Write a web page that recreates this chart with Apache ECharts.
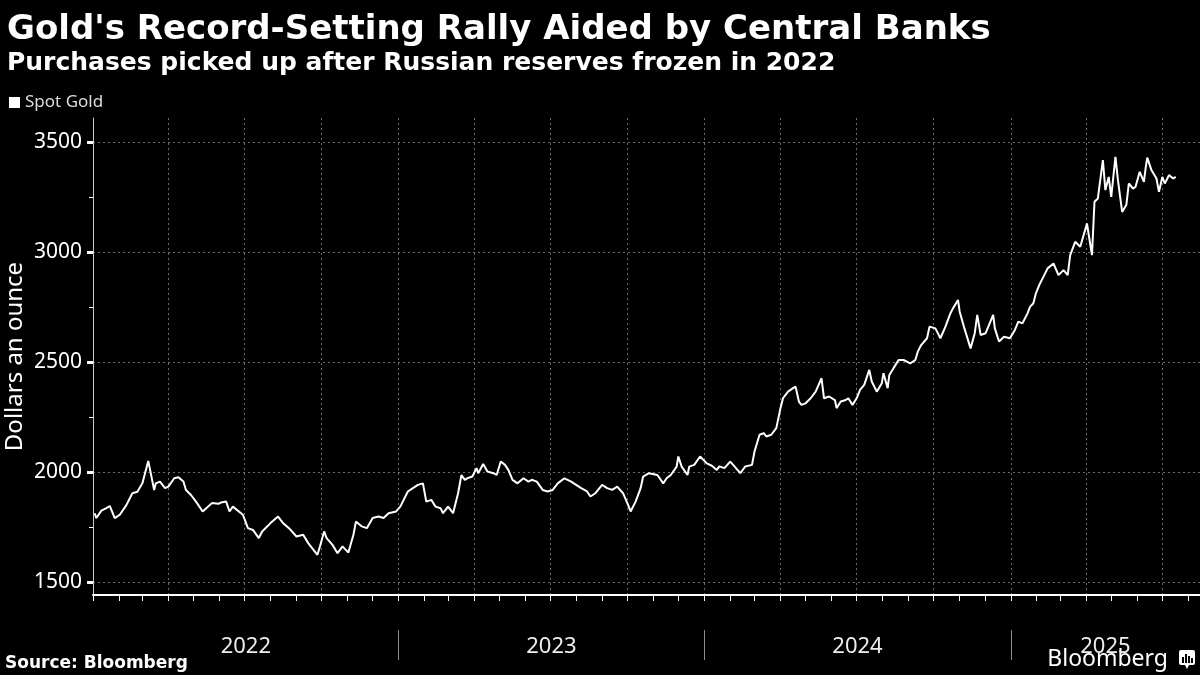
<!DOCTYPE html>
<html>
<head>
<meta charset="utf-8">
<title>Gold's Record-Setting Rally</title>
<script src="https://cdn.jsdelivr.net/npm/echarts@6/dist/echarts.min.js"></script>
<style>
  html, body { margin: 0; padding: 0; background: #000; }
  #chart { width: 1200px; height: 675px; }
</style>
</head>
<body>
<div id="chart"></div>
<script>
// spot gold, daily close (USD per ounce)
var gold2022 = [
  ['2022-01-03',1812],['2022-01-05',1790],['2022-01-11',1824],['2022-01-17',1835],['2022-01-21',1845],['2022-01-27',1790],
  ['2022-02-02',1805],['2022-02-10',1850],['2022-02-17',1903],['2022-02-23',1910],['2022-03-01',1948],['2022-03-08',2050],
  ['2022-03-15',1918],['2022-03-17',1948],['2022-03-22',1956],['2022-03-28',1926],['2022-04-01',1933],['2022-04-08',1971],
  ['2022-04-13',1976],['2022-04-19',1956],['2022-04-22',1918],['2022-04-28',1895],['2022-05-04',1865],['2022-05-12',1820],
  ['2022-05-23',1858],['2022-05-31',1855],['2022-06-03',1861],['2022-06-09',1865],['2022-06-13',1820],['2022-06-17',1842],
  ['2022-06-29',1805],['2022-07-05',1744],['2022-07-11',1736],['2022-07-18',1699],['2022-07-22',1729],['2022-08-01',1767],
  ['2022-08-10',1797],['2022-08-16',1767],['2022-08-23',1744],['2022-09-01',1706],['2022-09-09',1714],['2022-09-15',1676],
  ['2022-09-26',1623],['2022-09-29',1661],['2022-10-04',1729],['2022-10-07',1699],['2022-10-14',1668],['2022-10-20',1630],
  ['2022-10-26',1661],['2022-11-02',1633],['2022-11-08',1714],['2022-11-11',1774],['2022-11-18',1752],['2022-11-24',1744],
  ['2022-12-01',1790],['2022-12-08',1797],['2022-12-14',1790],['2022-12-20',1812],['2022-12-29',1820]
];
var gold2023 = [
  ['2023-01-03',1842],['2023-01-06',1865],['2023-01-12',1911],['2023-01-18',1926],['2023-01-24',1941],['2023-01-30',1948],
  ['2023-02-03',1865],['2023-02-09',1873],['2023-02-14',1842],['2023-02-20',1835],['2023-02-23',1812],['2023-03-01',1842],
  ['2023-03-07',1812],['2023-03-13',1903],['2023-03-17',1986],['2023-03-21',1964],['2023-03-24',1971],['2023-03-30',1979],
  ['2023-04-04',2017],['2023-04-06',1994],['2023-04-12',2036],['2023-04-17',2002],['2023-04-24',1994],['2023-04-28',1986],
  ['2023-05-03',2047],['2023-05-08',2032],['2023-05-12',2009],['2023-05-17',1964],['2023-05-23',1948],['2023-05-30',1971],
  ['2023-06-05',1956],['2023-06-09',1964],['2023-06-15',1956],['2023-06-22',1918],['2023-06-28',1911],['2023-07-04',1918],
  ['2023-07-10',1948],['2023-07-18',1971],['2023-07-26',1956],['2023-08-01',1941],['2023-08-07',1926],['2023-08-14',1911],
  ['2023-08-18',1888],['2023-08-24',1903],['2023-09-01',1941],['2023-09-07',1926],['2023-09-13',1918],['2023-09-19',1933],
  ['2023-09-26',1903],['2023-10-02',1850],['2023-10-05',1820],['2023-10-11',1865],['2023-10-17',1926],['2023-10-20',1979],
  ['2023-10-27',1994],['2023-11-06',1986],['2023-11-13',1948],['2023-11-17',1971],['2023-11-22',1986],['2023-11-29',2024],
  ['2023-12-01',2070],['2023-12-05',2024],['2023-12-12',1986],['2023-12-14',2024],['2023-12-20',2032],['2023-12-27',2070]
];
var gold2024 = [
  ['2024-01-04',2039],['2024-01-10',2028],['2024-01-16',2009],['2024-01-19',2025],['2024-01-25',2017],['2024-02-01',2047],
  ['2024-02-06',2025],['2024-02-13',1994],['2024-02-19',2025],['2024-02-27',2032],['2024-03-01',2093],['2024-03-07',2169],
  ['2024-03-12',2176],['2024-03-15',2161],['2024-03-21',2169],['2024-03-27',2199],['2024-04-01',2290],['2024-04-04',2335],
  ['2024-04-10',2365],['2024-04-16',2381],['2024-04-19',2388],['2024-04-23',2320],['2024-04-26',2305],['2024-05-01',2312],
  ['2024-05-07',2335],['2024-05-13',2365],['2024-05-20',2426],['2024-05-23',2335],['2024-05-29',2343],['2024-06-05',2327],
  ['2024-06-07',2290],['2024-06-12',2320],['2024-06-18',2327],['2024-06-21',2335],['2024-06-26',2305],['2024-07-01',2335],
  ['2024-07-05',2373],['2024-07-10',2396],['2024-07-16',2464],['2024-07-19',2411],['2024-07-25',2365],['2024-07-31',2403],
  ['2024-08-02',2449],['2024-08-07',2381],['2024-08-09',2441],['2024-08-14',2472],['2024-08-20',2509],['2024-08-26',2509],
  ['2024-09-03',2494],['2024-09-09',2509],['2024-09-12',2547],['2024-09-16',2577],['2024-09-23',2608],['2024-09-26',2661],
  ['2024-10-03',2653],['2024-10-09',2608],['2024-10-15',2661],['2024-10-21',2722],['2024-10-24',2744],['2024-10-30',2782],
  ['2024-11-01',2729],['2024-11-06',2661],['2024-11-14',2562],['2024-11-19',2631],['2024-11-22',2714],['2024-11-26',2623],
  ['2024-12-02',2631],['2024-12-11',2714],['2024-12-13',2653],['2024-12-18',2593],['2024-12-24',2615],['2024-12-31',2608]
];
var gold2025 = [
  ['2025-01-06',2646],['2025-01-10',2684],['2025-01-15',2676],['2025-01-21',2721],['2025-01-24',2751],['2025-01-28',2767],
  ['2025-01-31',2812],['2025-02-04',2850],['2025-02-10',2895],['2025-02-14',2926],['2025-02-21',2948],['2025-02-27',2895],
  ['2025-03-05',2918],['2025-03-10',2895],['2025-03-13',2986],['2025-03-19',3047],['2025-03-25',3024],['2025-04-02',3130],
  ['2025-04-08',2986],['2025-04-11',3229],['2025-04-15',3244],['2025-04-21',3418],['2025-04-24',3282],['2025-04-28',3342],
  ['2025-05-01',3251],['2025-05-06',3433],['2025-05-09',3327],['2025-05-14',3183],['2025-05-19',3214],['2025-05-22',3312],
  ['2025-05-27',3289],['2025-05-30',3297],['2025-06-04',3365],['2025-06-09',3319],['2025-06-11',3380],['2025-06-13',3430],
  ['2025-06-18',3373],['2025-06-24',3335],['2025-06-27',3274],['2025-07-01',3342],['2025-07-04',3312],['2025-07-09',3350],
  ['2025-07-14',3335],['2025-07-17',3342]
];

var yearLabels = ['2022', '2023', '2024', '2025'];
var yMajorTicks = [1500, 2000, 2500, 3000, 3500];
var yMinorTicks = [1750, 2250, 2750, 3250];

function toTime(s) {
  var p = s.split('-');
  return new Date(+p[0], +p[1] - 1, +p[2]).getTime();
}

var goldData = gold2022.concat(gold2023, gold2024, gold2025).map(function (d) {
  return [toTime(d[0]), d[1]];
});

var xMin = new Date(2022, 0, 1).getTime();
var xMax = new Date(2025, 7, 15).getTime();

// month starts for the small ticks, quarter starts for the grid
var monthTicks = [], quarterTicks = [], yearStarts = [];
for (var y = 2022; y <= 2025; y++) {
  for (var m = 0; m < 12; m++) {
    var t = new Date(y, m, 1).getTime();
    if (t > xMax) break;
    monthTicks.push(t);
    if (m % 3 === 0 && t > xMin) quarterTicks.push(t);
    if (m === 0 && t > xMin) yearStarts.push(t);
  }
}
// year labels sit in the middle of the visible part of each year
var yearCenters = yearLabels.map(function (lab) {
  var yr = +lab;
  var a = Math.max(new Date(yr, 0, 1).getTime(), xMin);
  var b = Math.min(new Date(yr + 1, 0, 1).getTime(), xMax);
  return (a + b) / 2;
});

var chart = echarts.init(document.getElementById('chart'));

var option = {
  backgroundColor: '#000',
  animation: false,
  title: [{
    text: "Gold's Record-Setting Rally Aided by Central Banks",
    left: 2,
    top: 8,
    textStyle: { color: '#fff', fontSize: 34, fontWeight: 'bold', fontFamily: 'DejaVu Sans' }
  }, {
    text: 'Purchases picked up after Russian reserves frozen in 2022',
    left: 2,
    top: 46,
    textStyle: { color: '#fff', fontSize: 25, fontWeight: 'bold', fontFamily: 'DejaVu Sans' }
  }],
  legend: {
    data: ['Spot Gold'],
    left: 4,
    top: 89,
    icon: 'rect',
    itemWidth: 11,
    itemHeight: 11,
    itemGap: 4,
    textStyle: { color: '#ddd', fontSize: 17, fontFamily: 'Noto Sans' }
  },
  grid: { left: 93, right: 0, top: 118, bottom: 80, outerBoundsMode: 'none' },
  xAxis: [{
    type: 'value',
    min: xMin,
    max: xMax,
    axisLine: { lineStyle: { color: '#fff', width: 2 } },
    axisTick: { customValues: monthTicks, length: 6, lineStyle: { color: '#fff', width: 1 } },
    axisLabel: { show: false },
    splitLine: { show: false }
  }, {
    type: 'value',
    min: xMin,
    max: xMax,
    position: 'bottom',
    axisLine: { show: false },
    axisTick: { show: false, customValues: quarterTicks },
    axisLabel: { show: false },
    splitLine: { show: true, lineStyle: { color: '#6a6a6a', width: 1, type: [2, 3] } }
  }, {
    type: 'value',
    min: xMin,
    max: xMax,
    position: 'bottom',
    offset: 35,
    axisLine: { show: false },
    axisTick: { customValues: yearStarts, length: 30, lineStyle: { color: '#8a8a8a', width: 1 } },
    axisLabel: {
      customValues: yearCenters,
      margin: 6,
      color: '#eee',
      fontSize: 22,
      fontFamily: 'Noto Sans',
      formatter: function (v) { return String(new Date(v).getFullYear()); }
    },
    splitLine: { show: false }
  }],
  yAxis: [{
    type: 'value',
    min: 1440,
    max: 3610,
    name: 'Dollars an ounce',
    nameLocation: 'middle',
    nameGap: 66,
    nameMoveOverlap: false,
    nameTextStyle: { color: '#fff', fontSize: 24, fontFamily: 'Noto Sans' },
    axisLine: { show: true, lineStyle: { color: '#ccc', width: 1 } },
    axisTick: { customValues: yMajorTicks, length: 6, lineStyle: { color: '#fff', width: 3 } },
    axisLabel: {
      customValues: yMajorTicks,
      margin: 11,
      color: '#fff',
      fontSize: 21,
      fontFamily: 'Noto Sans',
      formatter: function (v) { return String(v); }
    },
    splitLine: { show: true, lineStyle: { color: '#6a6a6a', width: 1, type: [2, 3] } }
  }, {
    type: 'value',
    min: 1440,
    max: 3610,
    position: 'left',
    axisLine: { show: false },
    axisTick: { show: true, customValues: yMinorTicks, length: 4, lineStyle: { color: '#fff', width: 1 } },
    axisLabel: { show: false },
    splitLine: { show: false }
  }],
  series: [{
    name: 'Spot Gold',
    type: 'line',
    xAxisIndex: 0,
    yAxisIndex: 0,
    data: goldData,
    showSymbol: false,
    itemStyle: { color: '#fff' },
    lineStyle: { color: '#fff', width: 2 },
    z: 5
  }],
  graphic: [{
    type: 'text',
    left: 5,
    top: 655,
    style: { text: 'Source: Bloomberg', fill: '#fff', font: 'bold 17px "DejaVu Sans"' }
  }, {
    type: 'text',
    right: 32,
    top: 648,
    style: { text: 'Bloomberg', fill: '#fff', font: '23px "Noto Sans"' }
  }, {
    type: 'group',
    right: 5,
    top: 650,
    children: [
      { type: 'rect', shape: { x: 0, y: 0, width: 16, height: 15, r: 2 }, style: { fill: '#fff' } },
      { type: 'polygon', shape: { points: [[6, 15], [10, 15], [8, 19]] }, style: { fill: '#fff' } },
      { type: 'rect', shape: { x: 3, y: 7, width: 2, height: 6 }, style: { fill: '#000' } },
      { type: 'rect', shape: { x: 6, y: 4, width: 2, height: 9 }, style: { fill: '#000' } },
      { type: 'rect', shape: { x: 9, y: 6, width: 2, height: 7 }, style: { fill: '#000' } },
      { type: 'rect', shape: { x: 12, y: 8, width: 2, height: 5 }, style: { fill: '#000' } }
    ]
  }]
};

chart.setOption(option);
</script>
</body>
</html>
